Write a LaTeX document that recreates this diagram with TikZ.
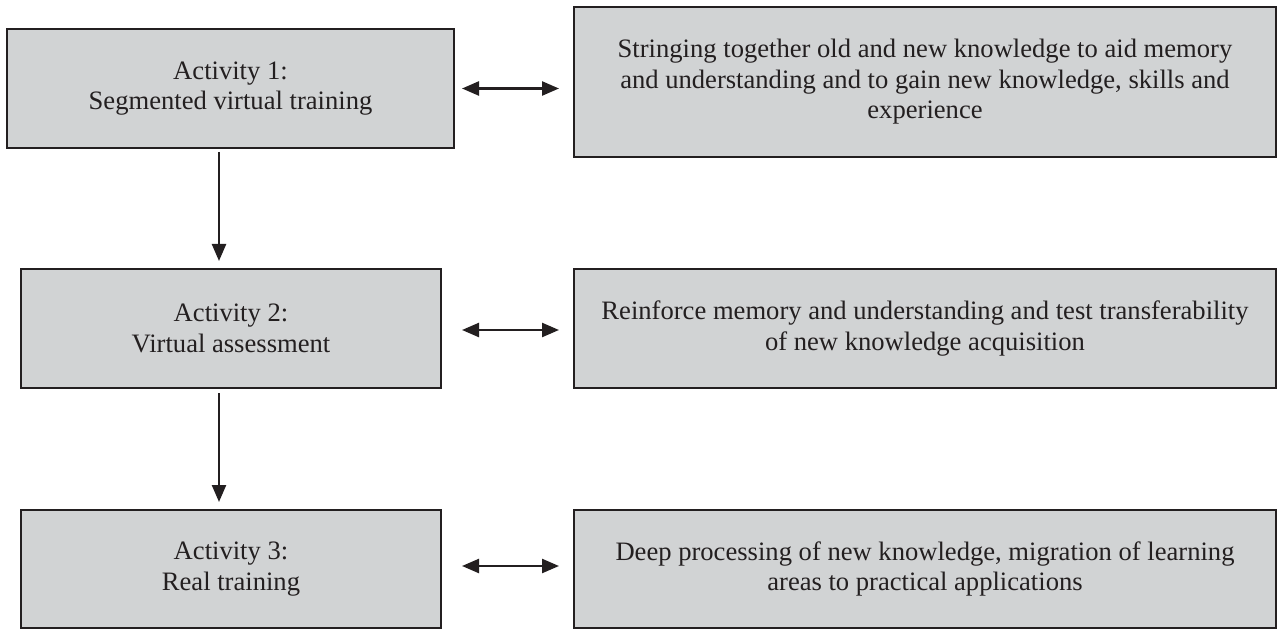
\documentclass[tikz,border=0pt]{standalone}
\usepackage{fontspec}
\setmainfont{Liberation Serif}
\usetikzlibrary{arrows.meta}
\definecolor{boxfill}{HTML}{D1D3D4}
\definecolor{ink}{HTML}{231F20}
\tikzset{
  actbox/.style={draw=ink, line width=1.1pt, fill=boxfill, rectangle, inner sep=0pt, outer sep=0pt,
    align=center, text=ink, font=\fontsize{13.3pt}{15.3pt}\selectfont},
  conn/.style={draw=ink, line width=1.2pt, -{Triangle[length=8.5pt,width=7pt]}},
  biconn/.style={draw=ink, line width=1.2pt, {Triangle[length=8.5pt,width=7pt]}-{Triangle[length=8.5pt,width=7pt]}}
}
\begin{document}
\begin{tikzpicture}[x=0.5pt,y=-0.5pt]
\useasboundingbox (0,0) rectangle (1277,630);
% left boxes
\node[actbox, minimum width=223.5pt, minimum height=59.5pt] (l1) at (230.5,88.5) {Activity 1:\\Segmented virtual training};
\node[actbox, minimum width=210pt, minimum height=59.5pt] (l2) at (231,328.5) {Activity 2:\\Virtual assessment};
\node[actbox, minimum width=210pt, minimum height=59pt] (l3) at (231,569) {Activity 3:\\Real training};
% right boxes
\node[actbox, minimum width=351pt, minimum height=75pt] (r1) at (925,82) {Stringing together old and new knowledge to aid memory\\and understanding and to gain new knowledge, skills and\\experience};
\node[actbox, minimum width=351pt, minimum height=59.5pt] (r2) at (925,328.5) {Reinforce memory and understanding and test transferability\\of new knowledge acquisition};
\node[actbox, minimum width=351pt, minimum height=59pt] (r3) at (925,569) {Deep processing of new knowledge, migration of learning\\areas to practical applications};
% horizontal double arrows
\draw[biconn, shorten <=4pt, shorten >=7.5pt] (l1.east) -- (l1.east -| r1.west);
\draw[biconn, shorten <=10.5pt, shorten >=7.5pt] ([yshift=-0.75pt]l2.east) -- ([yshift=-0.75pt]l2.east -| r2.west);
\draw[biconn, shorten <=10.5pt, shorten >=7.5pt] ([yshift=1.5pt]l3.east) -- ([yshift=1.5pt]l3.east -| r3.west);
% vertical arrows
\draw[conn, shorten <=2pt, shorten >=4pt] ([xshift=-5.75pt]l1.south) -- ([xshift=-5.75pt]l1.south |- l2.north);
\draw[conn, shorten <=2.5pt, shorten >=4pt] ([xshift=-6pt]l2.south) -- ([xshift=-6pt]l2.south |- l3.north);
\end{tikzpicture}
\end{document}
